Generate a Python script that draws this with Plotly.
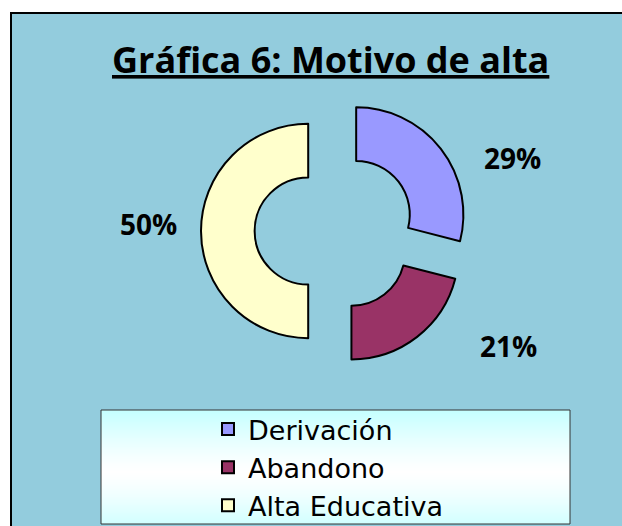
import base64
import struct
import zlib
import plotly.graph_objects as go

categories = ["Derivación", "Abandono", "Alta Educativa"]
values = [29, 21, 50]
colors = ["#9999FF", "#993366", "#FFFFCC"]
title_text = "Gráfica 6: Motivo de alta"

W, H = 622, 526
def px(x):
    return x / W
def py(y):
    return 1 - y / H


def gradient_png(n=64, edge=(198, 255, 255), mid=(255, 255, 255)):
    rows = []
    for i in range(n):
        t = abs(i / (n - 1) - 0.55) / 0.55
        t = min(1.0, t) ** 1.3
        rows.append(tuple(int(round(mid[k] + (edge[k] - mid[k]) * t)) for k in range(3)))
    raw = b"".join(b"\x00" + bytes(c) for c in rows)

    def chunk(tag, data):
        return (struct.pack(">I", len(data)) + tag + data +
                struct.pack(">I", zlib.crc32(tag + data) & 0xFFFFFFFF))

    png = (b"\x89PNG\r\n\x1a\n" +
           chunk(b"IHDR", struct.pack(">IIBBBBB", 1, n, 8, 2, 0, 0, 0)) +
           chunk(b"IDAT", zlib.compress(raw)) + chunk(b"IEND", b""))
    return "data:image/png;base64," + base64.b64encode(png).decode()


# pie geometry (pixels)
cx, cy, half = 335, 231, 134
fig = go.Figure()
fig.add_trace(go.Pie(
    labels=categories, values=values, sort=False, direction="clockwise", rotation=0,
    hole=0.5, pull=[0.25, 0.25, 0.25],
    marker=dict(colors=colors, line=dict(color="black", width=2)),
    textinfo="none", hoverinfo="label+percent",
    domain=dict(x=[px(cx - half), px(cx + half)], y=[py(cy + half), py(cy - half)]),
))

# percentage labels
label_pos = [(512, 158), (508, 346), (148, 224)]
total = sum(values)
for v, (lx, ly) in zip(values, label_pos):
    fig.add_annotation(x=px(lx), y=py(ly), xref="paper", yref="paper",
                       xanchor="center", yanchor="middle",
                       text=f"<b>{round(100 * v / total)}%</b>", showarrow=False,
                       font=dict(family="Open Sans", size=28, color="black"))

fig.add_annotation(x=px(330), y=py(60), xref="paper", yref="paper",
                   xanchor="center", yanchor="middle",
                   text=f"<b><u>{title_text}</u></b>", showarrow=False,
                   font=dict(family="Open Sans", size=36, color="black"))

shapes = [
    dict(type="rect", xref="paper", yref="paper", x0=px(11), x1=px(640), y0=py(560), y1=py(13),
         fillcolor="#93CCDD", line=dict(color="black", width=2), layer="below"),
    dict(type="rect", xref="paper", yref="paper", x0=px(101), x1=px(570), y0=py(524), y1=py(410),
         fillcolor="rgba(0,0,0,0)", line=dict(color="#333333", width=1), layer="above"),
]

images = [
    dict(source=gradient_png(), xref="paper", yref="paper", x=px(101), y=py(410),
         sizex=px(570) - px(101), sizey=py(410) - py(524), sizing="stretch",
         xanchor="left", yanchor="top", layer="above"),
]

fig.update_layout(
    width=W, height=H, margin=dict(l=0, r=0, t=0, b=0, autoexpand=False),
    paper_bgcolor="white", plot_bgcolor="rgba(0,0,0,0)",
    shapes=shapes, images=images, showlegend=True,
    legend=dict(x=px(208), y=py(405), xanchor="left", yanchor="top",
                bgcolor="rgba(0,0,0,0)", font=dict(family="DejaVu Sans", size=27, color="black"),
                tracegroupgap=0, itemwidth=30),
)

fig.write_html(
    "out.html",
    config={"displayModeBar": False},
    post_script="document.body.style.margin='0';document.body.style.overflow='hidden';",
)
